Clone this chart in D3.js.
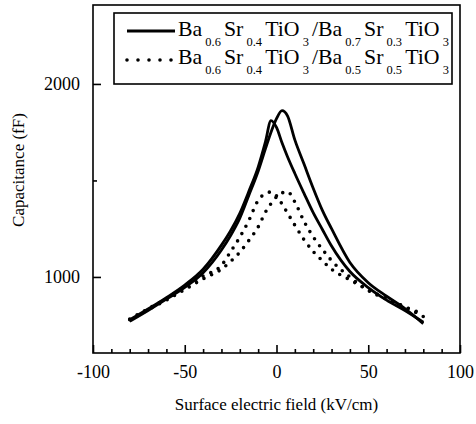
<!DOCTYPE html>
<html>
<head>
<meta charset="utf-8">
<script src="https://cdn.jsdelivr.net/npm/d3@7"></script>
<style>
  body { margin: 0; background: #fff; }
  svg { display: block; font-family: "Liberation Serif", "Times New Roman", serif; }
</style>
</head>
<body>
<svg id="chart" width="476" height="424"></svg>
<script>
// Data (field in kV/cm, capacitance in fF)
const fieldKV = [-80, -70, -60, -50, -40, -30, -25, -20, -15, -10, -6, -3, 0, 3, 6, 10, 15, 20, 25, 30, 40, 50, 60, 70, 80]
// Ba0.6Sr0.4TiO3/Ba0.7Sr0.3TiO3, two sweep directions
const solidSweepA = [778, 834, 893, 958, 1040, 1165, 1240, 1330, 1445, 1569, 1701, 1810, 1775, 1695, 1623, 1536, 1433, 1333, 1246, 1160, 1028, 945, 880, 826, 765]
const solidSweepB = [770, 826, 885, 946, 1022, 1140, 1215, 1305, 1425, 1548, 1665, 1750, 1820, 1862, 1835, 1710, 1585, 1460, 1345, 1250, 1075, 970, 900, 836, 758]
// Ba0.6Sr0.4TiO3/Ba0.5Sr0.5TiO3, two sweep directions
const dotSweepA = [782, 835, 888, 950, 1005, 1060, 1131, 1206, 1294, 1397, 1432, 1440, 1420, 1378, 1331, 1268, 1193, 1132, 1084, 1040, 985, 932, 888, 845, 795]
const dotSweepB = [778, 830, 880, 935, 990, 1040, 1080, 1128, 1190, 1259, 1336, 1380, 1415, 1435, 1442, 1388, 1288, 1208, 1143, 1085, 1000, 930, 885, 845, 808]

const xTickValues = [-100, -50, 0, 50, 100]
const xMinorTicks = [-90, -80, -70, -60, -40, -30, -20, -10, 10, 20, 30, 40, 60, 70, 80, 90]
const yTickValues = [1000, 2000]
const yMinorTicks = [1500]

const legendRows = [
  { style: 'solid', parts: [['Ba', 0], ['0.6', 1], ['Sr', 0], ['0.4', 1], ['TiO', 0], ['3', 1], ['/Ba', 0], ['0.7', 1], ['Sr', 0], ['0.3', 1], ['TiO', 0], ['3', 1]] },
  { style: 'dot', parts: [['Ba', 0], ['0.6', 1], ['Sr', 0], ['0.4', 1], ['TiO', 0], ['3', 1], ['/Ba', 0], ['0.5', 1], ['Sr', 0], ['0.5', 1], ['TiO', 0], ['3', 1]] }
]

const margin = { top: 5, right: 16, bottom: 71, left: 93 }
const width = 476
const height = 424
const serif = '"Liberation Serif", "Times New Roman", serif'

const svg = d3.select('#chart')

const x = d3.scaleLinear()
  .domain([-100, 100])
  .range([margin.left, width - margin.right])

const y = d3.scaleLinear()
  .domain([606, 2409])
  .range([height - margin.bottom, margin.top])

// Frame
svg.append('rect')
  .attr('x', x(-100))
  .attr('y', y(2409))
  .attr('width', x(100) - x(-100))
  .attr('height', y(606) - y(2409))
  .attr('fill', 'none')
  .attr('stroke', '#000')
  .attr('stroke-width', 1.6)

// X axis, ticks pointing in
const gx = svg.append('g')
  .attr('transform', `translate(0,${y(606)})`)

gx.append('g')
  .call(d3.axisBottom(x).tickValues(xMinorTicks).tickSize(-4).tickFormat(''))
  .call(g => g.select('.domain').remove())

gx.append('g')
  .call(d3.axisBottom(x).tickValues(xTickValues).tickSize(-8).tickPadding(12).tickFormat(d => String(d)))
  .call(g => g.select('.domain').remove())

gx.selectAll('g').attr('font-family', serif)
gx.selectAll('line').attr('stroke', '#000').attr('stroke-width', 1.6)
gx.selectAll('text')
  .attr('fill', '#000')
  .style('font-size', '18px')
  .style('font-family', serif)

// Y axis
const gy = svg.append('g')
  .attr('transform', `translate(${x(-100)},0)`)

gy.append('g')
  .call(d3.axisLeft(y).tickValues(yMinorTicks).tickSize(-4).tickFormat(''))
  .call(g => g.select('.domain').remove())

gy.append('g')
  .call(d3.axisLeft(y).tickValues(yTickValues).tickSize(-8).tickPadding(13).tickFormat(d => String(d)))
  .call(g => g.select('.domain').remove())

gy.selectAll('g').attr('font-family', serif)
gy.selectAll('line').attr('stroke', '#000').attr('stroke-width', 1.6)
gy.selectAll('text')
  .attr('fill', '#000')
  .style('font-size', '18px')
  .style('font-family', serif)

// Axis titles
svg.append('text')
  .attr('x', (x(-100) + x(100)) / 2)
  .attr('y', 410)
  .attr('text-anchor', 'middle')
  .style('font-size', '17px')
  .text('Surface electric field (kV/cm)')

svg.append('text')
  .attr('transform', 'translate(24,170) rotate(-90)')
  .attr('text-anchor', 'middle')
  .style('font-size', '17px')
  .text('Capacitance (fF)')

// Curves
const line = d3.line()
  .curve(d3.curveMonotoneX)
  .x(d => x(d[0]))
  .y(d => y(d[1]))

const branches = [
  { vals: solidSweepA, style: 'solid' },
  { vals: solidSweepB, style: 'solid' },
  { vals: dotSweepA, style: 'dot' },
  { vals: dotSweepB, style: 'dot' }
]

function styleStroke (sel, style) {
  sel.attr('fill', 'none')
    .attr('stroke', '#000')
  if (style === 'solid') {
    sel.attr('stroke-width', 2.8)
      .attr('stroke-linejoin', 'round')
  } else {
    sel.attr('stroke-width', 3.6)
      .attr('stroke-linecap', 'round')
      .attr('stroke-dasharray', '0 8.5')
  }
}

branches.forEach(b => {
  const pts = fieldKV.map((f, i) => [f, b.vals[i]])
  svg.append('path')
    .datum(pts)
    .attr('d', line)
    .call(styleStroke, b.style)
})

// Legend
const legend = svg.append('g')
svg.append('rect')
  .attr('x', 114)
  .attr('y', 13)
  .attr('width', 338)
  .attr('height', 71)
  .attr('fill', 'none')
  .attr('stroke', '#000')
  .attr('stroke-width', 1.6)

legendRows.forEach((row, i) => {
  const lineY = 31 + i * 29
  const baseY = 36 + i * 28
  legend.append('line')
    .attr('x1', 127)
    .attr('x2', row.style === 'solid' ? 175 : 172)
    .attr('y1', lineY)
    .attr('y2', lineY)
    .call(styleStroke, row.style)
    .attr('stroke-dasharray', row.style === 'solid' ? null : '0 11')

  const t = legend.append('text')
    .attr('x', 178)
    .attr('y', baseY)
    .style('font-size', '21px')
    .style('font-family', serif)

  let shifted = false
  row.parts.forEach(([txt, sub], k) => {
    const ts = t.append('tspan').text(txt)
    if (sub) {
      ts.attr('dy', 10).attr('dx', 3).style('font-size', '12px')
      shifted = true
    } else {
      if (k > 0) ts.attr('dx', 3)
      if (shifted) ts.attr('dy', -10)
      shifted = false
    }
  })

  // stretch the label to the width it takes in the figure
  const box = t.node().getBBox()
  const sx = 271 / box.width
  t.attr('transform', `translate(178,0) scale(${sx},1) translate(-178,0)`)
})
</script>
</body>
</html>
